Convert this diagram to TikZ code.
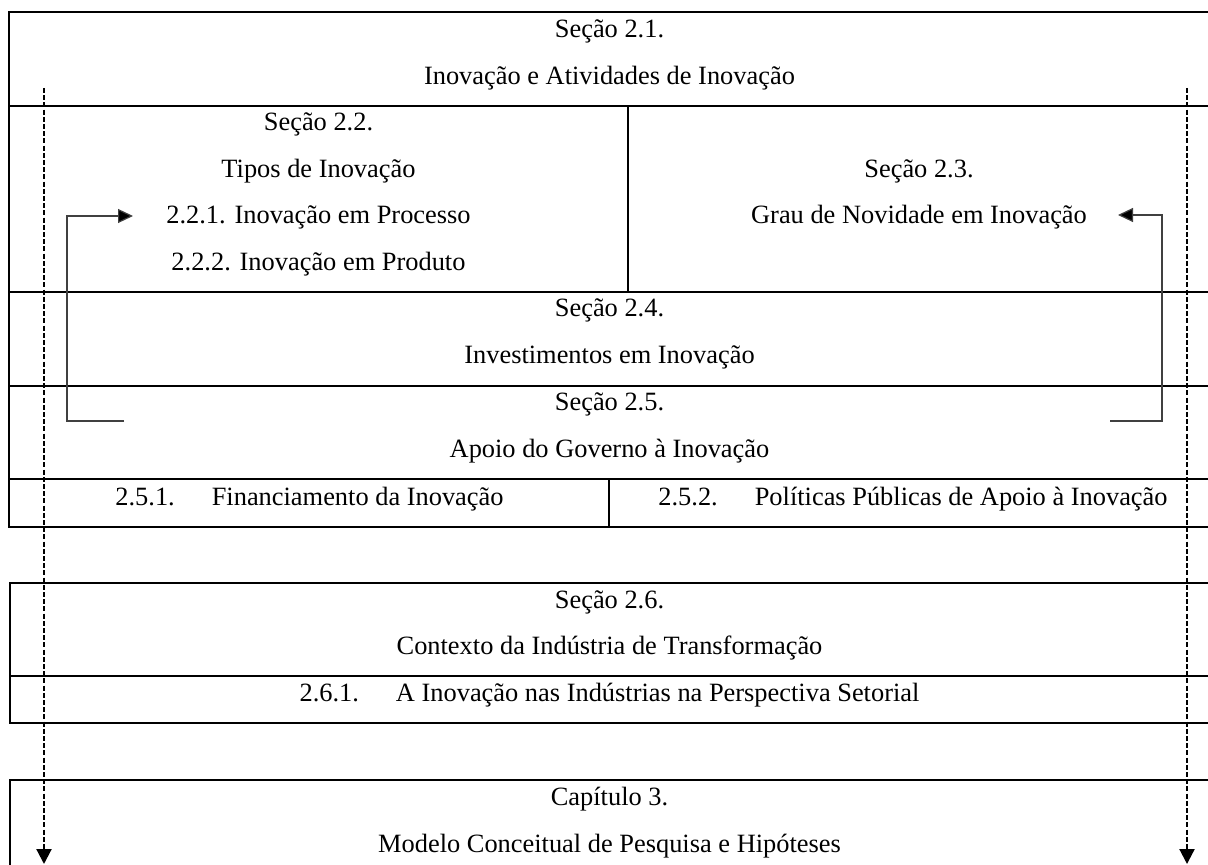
\documentclass[tikz,border=0pt]{standalone}
\usepackage{fontspec}
\setmainfont{Liberation Serif}
\usetikzlibrary{arrows.meta}
\begin{document}
\begin{tikzpicture}[x=0.5pt,y=-0.5pt,
  box/.style={line width=1pt,draw=black},
  txt/.style={anchor=base,inner sep=0pt,font=\fontsize{13.2}{16}\selectfont},
  txtl/.style={txt,anchor=base west},
  link/.style={line width=0.6pt,draw=black!75,-{Triangle[length=7.5pt,width=7pt,fill=black]}},
  flow/.style={line width=1.1pt,draw=black,dash pattern=on 2.5pt off 1.1pt,-{Triangle[length=7.5pt,width=7.5pt]}}]
\useasboundingbox (0,0) rectangle (1208,865);
% ---- box 1
\draw[box] (9,12) rectangle (1212,527);
\draw[box] (9,106) -- (1212,106);
\draw[box] (9,292) -- (1212,292);
\draw[box] (9,386) -- (1212,386);
\draw[box] (9,479) -- (1212,479);
\draw[box] (628,106) -- (628,292);
\draw[box] (609,479) -- (609,527);
% ---- box 2
\draw[box] (10,583) rectangle (1212,723);
\draw[box] (10,676) -- (1212,676);
% ---- box 3
\draw[box] (10,780) rectangle (1212,900);
% ---- texts
\node[txt] (s21) at (609.5,37.5) {Seção 2.1.};
\node[txt] (t21) at (609.5,84.5) {Inovação e Atividades de Inovação};
\node[txt] (s22) at (318.5,131) {Seção 2.2.};
\node[txt] (t22) at (318.5,178) {Tipos de Inovação};
\node[txt] (t221) at (318.5,224) {2.2.1. Inovação em Processo};
\node[txt] (t222) at (318.5,271) {2.2.2. Inovação em Produto};
\node[txt] (s23) at (919,178) {Seção 2.3.};
\node[txt] (t23) at (919,224) {Grau de Novidade em Inovação};
\node[txt] (s24) at (609.5,317) {Seção 2.4.};
\node[txt] (t24) at (609.5,364) {Investimentos em Inovação};
\node[txt] (s25) at (609.5,411) {Seção 2.5.};
\node[txt] (t25) at (609.5,457.5) {Apoio do Governo à Inovação};
\node[txtl] (t251) at (115,505) {2.5.1.\hspace{18.5pt}Financiamento da Inovação};
\node[txtl] (t252) at (658,505) {2.5.2.\hspace{18.5pt}Políticas Públicas de Apoio à Inovação};
\node[txt] (s26) at (609.5,608) {Seção 2.6.};
\node[txt] (t26) at (609.5,654.5) {Contexto da Indústria de Transformação};
\node[txt] (t261) at (609.5,701.5) {2.6.1.\hspace{18.5pt}A Inovação nas Indústrias na Perspectiva Setorial};
\node[txt] (c3) at (609.5,805.5) {Capítulo 3.};
\node[txt] (t3) at (609.5,852) {Modelo Conceitual de Pesquisa e Hipóteses};
% ---- solid arrows
\coordinate (la) at (124,421);
\coordinate (lb) at (67,421);
\coordinate (lc) at (67,216);
\coordinate (ld) at (133,216);
\draw[link] (la) -- (lb) -- (lc) -- (ld);
\coordinate (ra) at (1110,421);
\coordinate (rb) at (1162,421);
\coordinate (rc) at (1162,215);
\coordinate (rd) at (1118,215);
\draw[link] (ra) -- (rb) -- (rc) -- (rd);
% ---- dashed arrows
\coordinate (dl1) at (44,88);
\coordinate (dl2) at (44,864);
\coordinate (dr1) at (1187,88);
\coordinate (dr2) at (1187,864);
\draw[flow] (dl1) -- (dl2);
\draw[flow] (dr1) -- (dr2);
\end{tikzpicture}
\end{document}
